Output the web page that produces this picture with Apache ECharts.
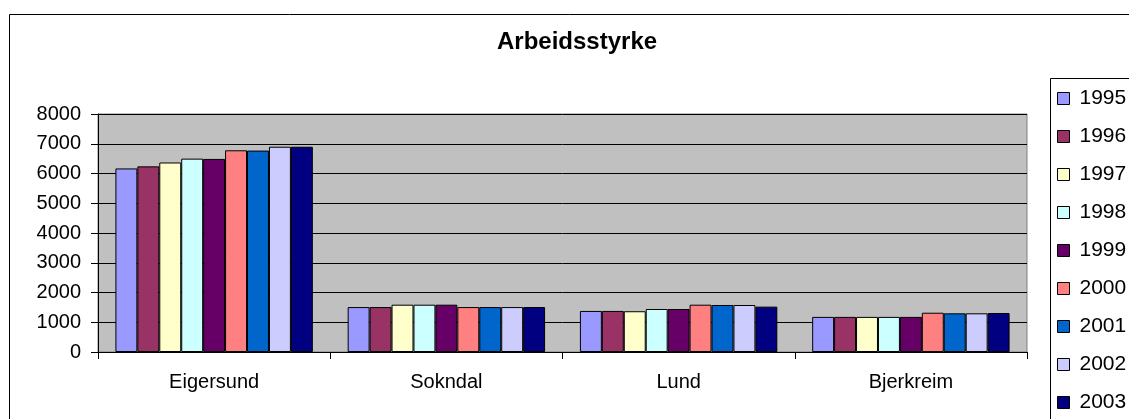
<!DOCTYPE html>
<html>
<head>
<meta charset="utf-8">
<script src="https://cdn.jsdelivr.net/npm/echarts@6/dist/echarts.min.js"></script>
<style>
  html, body { margin: 0; padding: 0; background: #fff; }
  #chart { width: 1129px; height: 419px; }
</style>
</head>
<body>
<div id="chart"></div>
<script>
  var categories = ["Eigersund", "Sokndal", "Lund", "Bjerkreim"];
  var years = ["1995", "1996", "1997", "1998", "1999", "2000", "2001", "2002", "2003"];
  // one row per year, in category order
  var v1995 = [6170, 1510, 1380, 1180];
  var v1996 = [6240, 1510, 1380, 1180];
  var v1997 = [6370, 1590, 1370, 1180];
  var v1998 = [6500, 1590, 1445, 1180];
  var v1999 = [6490, 1590, 1445, 1180];
  var v2000 = [6780, 1510, 1590, 1320];
  var v2001 = [6770, 1510, 1580, 1300];
  var v2002 = [6900, 1510, 1580, 1300];
  var v2003 = [6900, 1510, 1525, 1310];
  var yTicks = [0, 1000, 2000, 3000, 4000, 5000, 6000, 7000, 8000];

  var values = [v1995, v1996, v1997, v1998, v1999, v2000, v2001, v2002, v2003];
  var colors = ["#9999FF", "#993366", "#FFFFCC", "#CCFFFF", "#660066",
                "#FF8080", "#0066CC", "#CCCCFF", "#000080"];

  var myChart = echarts.init(document.getElementById("chart"));

  var series = years.map(function (y, i) {
    return {
      name: y,
      type: "bar",
      data: values[i],
      barGap: 0,
      barCategoryGap: "15%",
      itemStyle: { color: colors[i], borderColor: "#000", borderWidth: 1 }
    };
  });

  var option = {
    animation: false,
    textStyle: { fontFamily: "Liberation Sans, Arial, sans-serif" },
    title: {
      text: "Arbeidsstyrke",
      left: 497,
      top: 30,
      padding: 0,
      textStyle: { fontSize: 24, fontWeight: "bold", color: "#000" }
    },
    graphic: [
      {
        type: "rect",
        shape: { x: 9.5, y: 14.5, width: 1300, height: 500 },
        style: { fill: null, stroke: "#000", lineWidth: 1 },
        silent: true, z: -10
      },
      {
        type: "rect",
        shape: { x: 1050.5, y: 78.5, width: 200, height: 400 },
        style: { fill: "#fff", stroke: "#000", lineWidth: 1 },
        silent: true, z: -5
      }
    ],
    legend: {
      orient: "vertical",
      left: 1057,
      top: 88,
      padding: 0,
      icon: "rect",
      itemWidth: 12,
      itemHeight: 12,
      itemGap: 17,
      itemStyle: { borderColor: "#000", borderWidth: 1 },
      textStyle: { fontSize: 21, color: "#000", padding: [0, 0, 0, 5] },
      data: years
    },
    grid: {
      left: 98,
      right: 102,
      top: 114,
      bottom: 67,
      show: true,
      backgroundColor: "#C0C0C0",
      borderColor: "#808080",
      borderWidth: 1
    },
    xAxis: {
      type: "category",
      data: categories,
      axisLine: { lineStyle: { color: "#000", width: 1 } },
      axisTick: { show: true, length: 7, lineStyle: { color: "#000" } },
      axisLabel: { fontSize: 20, color: "#000", margin: 20 }
    },
    yAxis: {
      type: "value",
      min: yTicks[0],
      max: yTicks[yTicks.length - 1],
      interval: 1000,
      axisLine: { show: true, lineStyle: { color: "#000", width: 1 } },
      axisTick: { show: true, length: 7, lineStyle: { color: "#000" } },
      axisLabel: {
        fontSize: 20, color: "#000", margin: 17,
        formatter: function (v) { return String(v); }
      },
      splitLine: { lineStyle: { color: "#000", width: 1 } }
    },
    series: series
  };
  myChart.setOption(option);
</script>
</body>
</html>
